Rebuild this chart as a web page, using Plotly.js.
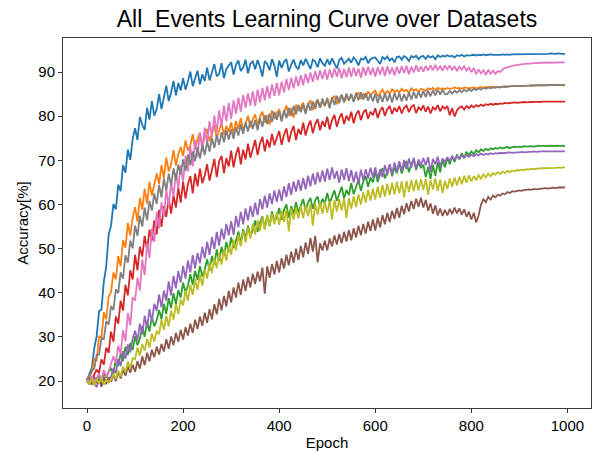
<!DOCTYPE html>
<html><head><meta charset="utf-8">
<script src="https://cdn.plot.ly/plotly-3.0.1.min.js"></script>
<style>html,body{margin:0;padding:0;background:#fff}#chart{width:600px;height:451px}</style>
</head><body><div id="chart"></div>
<script>
const STEP = 5;
const seriesNames = ["blue","orange","green","red","purple","brown","pink","gray","olive"];
const blue = [20.3,21.6,23.0,27.4,30.1,35.8,36.2,42.5,46.0,53.1,
55.2,60.1,58.9,64.5,63.0,68.9,67.2,72.4,70.1,74.8,
77.3,74.6,79.8,78.0,76.9,81.9,79.2,83.4,80.1,81.6,
85.0,81.6,84.2,86.9,83.4,85.3,88.0,84.7,87.5,85.8,
88.6,86.0,87.9,90.1,86.8,88.4,90.3,87.2,89.5,88.0,
91.0,88.1,90.2,91.8,89.0,89.6,92.0,88.6,90.7,91.5,
92.2,89.4,91.6,92.6,90.2,91.0,92.8,89.7,91.9,92.4,
90.6,92.7,91.2,89.0,92.5,91.8,90.4,92.9,91.5,88.9,
92.6,90.9,92.3,92.9,90.1,91.7,92.8,91.2,90.6,92.7,
91.5,93.0,91.9,90.7,92.8,92.3,91.1,93.1,92.0,91.4,
92.9,91.6,93.1,92.0,90.8,92.7,93.2,91.9,92.5,93.0,
92.1,93.3,92.6,91.5,93.0,92.8,93.4,92.0,92.9,93.2,
93.3,92.4,91.8,93.4,92.9,93.5,92.6,93.1,92.2,93.4,
93.5,92.8,93.6,93.2,92.5,93.6,93.3,93.7,92.9,93.5,
93.6,93.0,93.7,93.3,93.6,92.9,93.8,93.4,93.7,93.5,
93.8,93.5,93.7,93.3,93.8,93.6,93.9,93.5,93.8,93.7,
93.8,93.9,93.7,93.9,93.8,94.0,93.8,93.9,94.0,93.9,
93.9,93.8,93.9,94.0,93.9,94.0,93.9,94.0,94.0,94.0,
94.0,94.1,94.0,94.1,94.1,94.0,94.1,94.1,94.1,94.1,
94.1,94.1,94.1,94.2,94.1,94.1,94.2,94.1,94.1,94.1];
const orange = [20.5,21.3,22.0,25.1,24.6,30.2,29.8,35.6,34.0,39.1,
40.2,44.6,43.1,48.3,46.0,51.9,50.2,55.8,53.0,56.9,
59.4,56.1,61.5,58.8,63.6,60.2,65.1,62.0,64.3,67.0,
64.6,68.9,66.0,70.6,67.5,69.1,72.3,68.8,71.4,73.0,
71.0,74.5,72.2,73.4,75.9,72.6,74.8,76.2,73.5,75.6,
77.1,74.3,76.2,78.0,75.0,76.8,78.5,75.7,77.8,76.4,
78.6,76.0,78.9,77.1,79.6,76.8,78.2,80.1,77.5,79.2,
80.4,77.9,79.8,81.0,78.5,80.2,78.1,81.3,79.4,80.6,
81.6,79.2,81.0,82.4,80.1,81.8,79.7,82.6,81.2,82.0,
83.1,80.9,82.6,83.6,81.4,82.9,83.8,81.9,83.4,82.3,
84.2,82.4,83.9,84.6,82.7,84.0,84.8,83.1,84.4,83.6,
85.0,83.5,84.7,85.4,83.9,85.1,84.2,85.6,84.8,85.2,
85.8,84.5,85.4,86.0,84.9,85.7,85.1,86.1,85.5,85.9,
85.3,86.2,85.6,86.0,85.2,86.3,85.8,86.1,85.5,86.2,
86.0,85.7,86.3,86.1,86.4,85.9,86.4,86.2,86.3,86.1,
86.4,86.2,86.3,86.5,86.3,86.4,86.2,86.5,86.4,86.3,
86.4,86.5,86.3,86.5,86.6,86.4,86.6,86.5,86.7,86.6,
86.6,86.7,86.6,86.7,86.8,86.7,86.8,86.8,86.7,86.8,
86.8,86.9,86.8,86.9,86.9,86.9,87.0,86.9,87.0,87.0,
87.0,87.0,87.0,87.1,87.0,87.0,87.1,87.0,87.0,87.0];
const green = [20.4,19.5,20.9,19.8,20.3,21.2,20.0,21.6,20.8,22.1,
22.8,21.6,24.9,23.4,26.3,24.5,27.8,25.9,28.6,27.0,
30.2,28.1,29.6,32.4,30.0,33.5,31.2,34.6,32.4,33.8,
36.1,34.0,37.5,35.2,38.8,36.5,39.9,37.4,40.6,38.9,
42.3,40.0,41.6,44.2,41.8,45.0,42.9,46.1,43.7,45.2,
47.6,45.1,48.3,46.4,49.8,47.2,50.4,48.3,51.5,49.2,
52.6,50.1,51.7,53.9,51.2,54.4,52.3,55.2,52.9,54.1,
56.4,53.8,55.9,57.3,54.5,57.6,55.1,58.4,56.2,57.0,
59.2,56.5,58.8,60.0,57.0,59.6,57.9,60.5,58.2,59.9,
61.2,58.6,60.4,61.5,59.0,60.9,61.8,59.4,61.3,60.2,
62.6,60.3,61.9,63.2,60.8,62.5,64.0,61.4,63.3,62.1,
64.8,62.3,63.9,65.6,63.1,65.2,66.4,64.0,66.1,65.0,
67.5,65.1,66.8,68.2,65.9,67.6,68.9,66.4,68.3,67.1,
69.4,67.0,68.7,69.8,67.3,69.1,70.1,67.8,69.5,68.2,
69.0,66.2,68.5,65.8,68.9,66.5,69.6,67.3,70.2,68.4,
70.6,69.1,71.0,69.6,71.3,70.2,71.6,70.5,71.9,71.2,
72.0,71.4,72.3,71.8,72.5,72.1,72.6,72.3,72.7,72.5,
72.8,72.6,72.9,72.7,72.9,73.0,72.8,73.0,73.1,73.0,
73.1,73.0,73.2,73.1,73.2,73.2,73.1,73.2,73.3,73.2,
73.3,73.2,73.3,73.3,73.2,73.3,73.3,73.2,73.3,73.2];
const red = [20.2,20.8,20.3,21.5,22.6,21.8,24.9,23.7,27.6,26.4,
31.2,28.9,34.6,33.0,38.2,36.0,41.8,39.4,45.1,43.0,
48.6,45.1,50.4,48.2,52.9,49.6,54.3,51.8,56.4,53.2,
58.8,54.9,59.6,57.2,61.4,57.9,62.1,59.3,63.8,60.4,
65.2,61.3,64.6,66.4,62.5,67.0,64.1,68.1,64.8,66.6,
69.1,65.4,68.0,70.3,66.2,69.8,71.0,67.1,70.5,68.6,
72.2,68.4,71.3,73.0,69.1,72.4,70.2,73.8,70.6,72.9,
74.6,71.2,73.8,75.3,72.0,74.7,72.9,76.0,73.4,75.1,
76.6,73.5,75.8,77.2,74.1,76.4,77.8,74.6,77.1,75.8,
78.5,75.6,77.7,79.0,76.1,78.2,79.3,76.8,78.9,77.6,
79.9,77.0,79.1,80.3,77.6,79.5,80.6,78.2,80.1,79.0,
81.0,78.4,80.4,81.3,79.1,80.8,81.5,79.4,81.0,80.2,
81.8,79.6,81.2,82.0,80.1,81.6,82.2,80.5,81.9,81.0,
82.3,80.6,81.9,82.4,80.9,82.1,82.5,80.7,82.0,81.4,
82.4,81.0,82.2,80.6,82.0,81.5,82.5,81.1,82.2,81.7,
82.3,80.2,81.8,79.9,81.3,81.9,82.2,81.5,82.3,81.8,
82.4,82.0,82.5,82.2,82.6,82.3,82.7,82.5,82.8,82.6,
82.8,82.7,82.9,82.8,83.0,82.9,83.0,83.0,83.1,83.0,
83.1,83.1,83.2,83.1,83.2,83.2,83.2,83.3,83.2,83.3,
83.3,83.3,83.3,83.4,83.3,83.3,83.4,83.3,83.4,83.3];
const purple = [20.3,19.2,20.7,19.6,18.6,20.4,19.1,20.9,19.8,20.5,
21.0,22.9,21.8,25.0,23.4,26.8,25.1,28.3,26.5,29.6,
31.4,29.2,33.0,30.6,34.8,32.0,36.3,33.4,37.5,35.9,
39.6,36.7,40.5,38.2,42.6,39.4,43.8,41.0,44.9,42.3,
46.1,43.2,47.3,44.6,48.5,45.5,49.0,46.7,50.4,47.8,
51.5,48.6,52.6,49.9,53.8,50.7,54.5,52.1,55.6,53.0,
56.2,53.1,57.4,54.8,58.3,55.5,59.1,56.4,59.6,57.2,
60.4,57.6,61.2,58.9,62.0,59.3,62.5,60.1,63.2,60.6,
63.4,60.8,64.1,61.7,64.8,62.2,65.2,62.9,65.6,63.1,
66.0,63.4,66.5,64.1,67.0,64.5,67.3,65.0,67.7,65.2,
68.1,65.5,68.4,65.8,67.6,64.9,67.9,65.6,68.2,65.3,
67.8,65.0,67.4,64.6,67.9,65.4,68.0,65.9,68.3,66.1,
68.4,65.8,68.0,66.2,68.9,66.6,69.2,66.9,69.5,67.4,
69.8,67.6,70.1,68.0,70.4,68.3,70.6,68.1,70.2,68.8,
70.5,68.9,70.7,67.4,70.3,69.1,70.8,68.5,70.4,69.6,
70.7,69.8,70.9,70.2,71.0,70.4,71.1,70.6,71.2,70.8,
71.3,70.9,71.4,71.1,71.5,71.2,71.5,71.3,71.6,71.4,
71.6,71.5,71.7,71.6,71.7,71.7,71.8,71.7,71.8,71.8,
71.8,71.9,71.8,71.9,71.9,71.9,72.0,71.9,72.0,72.0,
72.0,72.0,72.0,72.1,72.0,72.0,72.1,72.0,72.1,72.0];
const brown = [19.6,20.6,19.2,21.0,19.5,20.4,18.7,20.8,19.3,20.9,
19.8,21.4,20.0,22.1,20.6,22.6,21.2,23.3,21.9,23.7,
22.1,24.5,22.8,25.6,23.6,26.4,24.5,27.1,25.4,27.8,
26.0,28.4,26.7,29.5,27.3,30.1,28.1,30.9,28.9,31.6,
29.4,32.2,30.3,33.0,30.9,33.9,31.8,34.6,32.5,35.5,
33.2,36.3,34.0,37.4,35.1,38.6,36.0,39.3,36.9,40.4,
37.8,41.2,38.9,42.3,39.5,43.0,40.4,43.6,41.2,44.3,
42.0,44.8,42.6,45.7,39.8,46.0,43.4,46.5,44.1,47.2,
44.6,47.8,45.5,48.6,46.2,49.3,46.8,50.0,47.4,50.6,
48.0,51.4,48.8,52.4,49.3,52.9,46.9,51.2,49.6,51.8,
49.6,52.3,50.5,53.0,50.9,53.3,51.2,53.8,51.6,54.2,
51.9,54.6,52.5,55.2,53.0,55.6,53.4,56.1,54.0,56.6,
54.1,57.0,54.8,57.6,55.5,58.1,56.0,58.6,56.7,59.2,
57.0,59.7,57.8,60.3,58.4,60.8,59.0,61.3,59.5,61.5,
59.3,61.0,58.6,60.2,57.9,59.8,57.5,59.1,57.4,58.8,
57.5,59.0,57.8,59.3,58.0,59.1,57.7,58.9,57.2,58.4,
56.6,58.1,55.9,57.5,59.9,61.2,60.5,61.7,61.1,62.0,
61.6,62.2,62.0,62.5,62.3,62.8,62.6,63.0,62.9,63.1,
63.2,63.1,63.3,63.3,63.4,63.3,63.5,63.4,63.5,63.6,
63.6,63.7,63.6,63.7,63.8,63.7,63.8,63.9,63.8,63.9];
const pink = [20.8,19.4,21.2,19.9,20.6,21.7,20.3,22.5,21.0,22.2,
23.9,25.6,24.1,28.0,26.2,31.5,29.0,35.4,32.6,39.0,
38.2,43.4,40.5,47.5,44.0,51.2,47.9,54.6,51.5,58.3,
54.6,60.5,57.2,63.4,59.6,65.1,61.7,67.2,63.6,68.9,
65.2,71.0,67.5,73.2,68.6,74.5,70.8,76.3,72.0,77.4,
73.6,78.9,75.3,80.2,76.4,81.3,77.6,82.4,78.8,83.0,
79.4,83.6,80.5,84.2,81.0,84.8,81.9,85.2,82.4,85.6,
82.3,86.0,83.1,86.4,83.6,86.8,84.0,87.2,84.6,87.5,
84.7,87.8,85.4,88.4,85.9,88.7,86.3,89.0,86.8,89.3,
87.0,89.6,87.5,89.9,87.8,90.2,88.1,90.4,88.4,90.5,
88.3,90.6,88.7,90.8,88.9,90.9,88.6,90.7,88.8,91.0,
88.9,91.0,89.1,90.8,88.7,91.1,89.2,91.2,89.3,90.9,
89.0,91.1,89.4,91.2,89.1,91.3,89.5,91.0,89.2,91.2,
89.6,91.3,89.8,91.4,89.5,91.2,89.9,91.5,90.1,91.3,
90.1,91.4,90.3,91.5,90.4,91.6,90.5,91.3,90.3,91.5,
90.6,91.5,90.4,91.3,90.2,91.2,90.5,91.3,90.3,91.0,
90.0,90.9,89.5,90.6,89.7,90.4,89.3,90.5,89.6,90.3,
89.6,90.2,90.0,90.6,90.9,91.1,91.3,91.4,91.5,91.6,
91.7,91.8,91.8,91.9,91.9,92.0,92.0,92.0,92.1,92.1,
92.1,92.1,92.2,92.1,92.2,92.2,92.2,92.2,92.2,92.2];
const gray = [20.3,20.9,22.4,22.8,25.9,26.0,29.8,29.5,33.6,32.8,
37.0,36.1,40.8,39.9,44.6,43.2,48.5,46.8,51.8,50.1,
55.2,52.9,57.4,55.0,59.3,56.4,60.8,58.6,62.5,60.1,
64.4,61.6,65.9,63.2,67.0,64.3,68.2,65.5,69.0,66.8,
70.2,67.6,71.3,68.9,72.0,69.8,72.9,70.4,73.5,71.2,
74.3,72.0,75.1,72.8,75.6,73.5,76.4,74.1,76.8,74.7,
77.0,74.9,77.5,75.6,78.1,76.0,78.6,76.5,79.0,77.1,
79.1,76.8,79.6,77.6,80.2,78.2,80.6,78.7,81.0,79.2,
81.1,78.8,81.4,79.5,81.9,80.1,82.3,80.4,82.6,80.9,
82.6,80.5,83.0,81.2,83.3,81.6,83.7,81.9,84.0,82.3,
83.9,81.8,84.3,82.5,84.6,82.9,84.9,83.2,85.1,83.5,
85.0,83.2,85.3,83.6,85.4,83.8,85.2,83.5,85.0,83.3,
85.1,83.0,84.9,83.2,85.2,83.4,85.0,83.1,85.3,83.6,
85.2,83.3,85.0,83.5,85.4,83.8,85.5,84.0,85.6,84.2,
85.7,84.3,85.8,84.5,85.9,84.7,86.0,84.9,86.0,85.0,
85.0,85.7,85.1,85.8,85.3,85.9,85.4,86.0,85.6,86.1,
85.7,86.2,85.9,86.3,86.0,86.4,86.2,86.5,86.3,86.5,
86.4,86.6,86.5,86.7,86.6,86.7,86.7,86.8,86.8,86.8,
86.8,86.9,86.9,86.9,86.9,87.0,86.9,87.0,87.0,87.0,
87.0,87.0,87.1,87.0,87.1,87.0,87.1,87.1,87.0,87.1];
const olive = [20.1,19.3,20.6,19.0,20.4,19.5,20.8,19.2,20.3,19.7,
20.2,21.6,20.5,22.4,21.0,23.3,22.0,24.4,22.8,25.2,
25.0,27.6,25.8,28.4,26.9,29.5,27.6,30.8,28.9,31.4,
30.6,33.9,31.6,34.8,32.4,36.0,33.9,37.4,35.2,38.5,
37.1,40.6,38.2,41.8,39.5,43.0,40.7,44.1,41.6,45.2,
43.2,46.8,44.5,47.9,45.6,48.9,46.4,49.8,47.3,50.7,
48.6,52.0,49.6,53.1,50.5,54.0,51.4,54.8,52.3,55.6,
53.2,56.4,54.0,57.0,54.3,57.5,55.1,57.9,55.5,58.3,
55.4,58.6,56.0,58.9,53.9,59.1,56.6,59.3,56.8,59.6,
56.9,59.8,57.3,60.1,55.2,60.2,57.7,60.5,57.9,60.6,
58.1,60.8,56.6,61.0,58.4,61.2,58.7,61.3,56.9,61.5,
59.0,61.9,59.4,62.3,60.0,62.8,60.4,63.3,60.9,63.6,
61.1,64.0,61.5,64.4,61.8,64.7,62.1,64.9,62.3,65.1,
62.5,65.2,61.6,65.3,62.8,65.5,63.0,65.6,63.2,65.7,
63.3,65.8,62.2,65.5,63.4,65.9,63.1,65.6,62.6,65.3,
63.5,65.9,64.0,66.1,64.3,66.3,64.6,66.5,64.9,66.6,
65.2,66.4,65.5,66.6,65.8,66.8,66.1,67.0,66.4,67.1,
66.7,67.3,66.9,67.5,67.1,67.6,67.3,67.7,67.5,67.8,
67.7,67.9,67.8,68.0,67.9,68.1,68.0,68.1,68.1,68.2,
68.2,68.2,68.3,68.2,68.3,68.3,68.4,68.3,68.4,68.4];
const xTicks = [0,200,400,600,800,1000];
const yTicks = [20,30,40,50,60,70,80,90];

const epochs = blue.map((_, i) => i * STEP);
const seriesData = [blue, orange, green, red, purple, brown, pink, gray, olive];
const colors = ["#1f77b4","#ff7f0e","#2ca02c","#d62728","#9467bd","#8c564b","#e377c2","#7f7f7f","#bcbd22"];
const traces = seriesData.map((ys, k) => ({
  x: epochs, y: ys, type: "scatter", mode: "lines", name: seriesNames[k],
  line: {color: colors[k], width: 1.8}, hoverinfo: "skip"
}));
const font = {family: "Liberation Sans, Arial, sans-serif", color: "#000"};
const axisCommon = {
  showline: true, mirror: true, linecolor: "#3a3a3a", linewidth: 1,
  ticks: "outside", ticklen: 4, tickwidth: 1, tickcolor: "#3a3a3a",
  showgrid: false, zeroline: false, tickfont: Object.assign({size: 15}, font)
};
const layout = {
  width: 600, height: 451,
  margin: {l: 63, r: 9, t: 38, b: 43},
  paper_bgcolor: "#fff", plot_bgcolor: "#fff",
  showlegend: false,
  font: font,
  title: {text: "All_Events Learning Curve over Datasets", font: Object.assign({size: 23}, font),
          x: 0.545, xref: "container", xanchor: "center", y: 0.958, yref: "container", yanchor: "middle"},
  xaxis: Object.assign({}, axisCommon, {range: [-50, 1049], tickvals: xTicks, ticktext: xTicks.map(String),
          title: {text: "Epoch", font: Object.assign({size: 15}, font), standoff: 4}}),
  yaxis: Object.assign({}, axisCommon, {range: [13.9, 97.7], tickvals: yTicks, ticktext: yTicks.map(String),
          title: {text: "Accuracy[%]", font: Object.assign({size: 15}, font), standoff: 6}})
};
Plotly.newPlot("chart", traces, layout, {staticPlot: true, displayModeBar: false});
</script></body></html>
